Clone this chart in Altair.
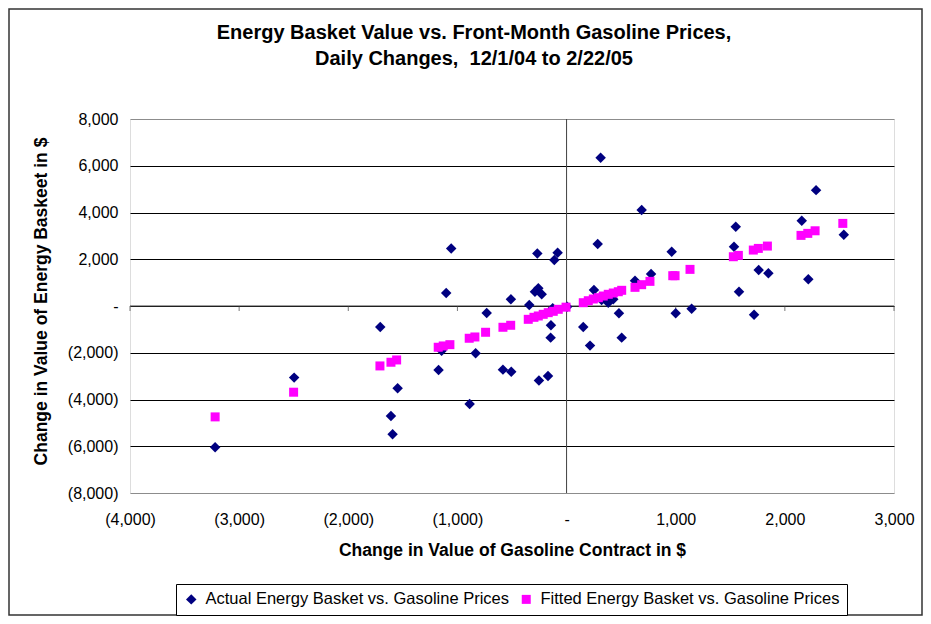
import altair as alt
import pandas as pd

# ---- data ----
series_names = [
    "Actual Energy Basket vs. Gasoline Prices",
    "Fitted Energy Basket vs. Gasoline Prices",
]
actual_x = [-3220, -2496, -1707, -1548, -1609, -1594, -1057, -1103, -1145, -1173,
            -732, -833, -888, -583, -507, -510, -342, -268, -259, -290,
            -228, -253, -170, -143, -146, -112, -82, -127, 5, 153,
            215, 251, 285, 312, 321, 382, 428, 480, 505, 627,
            688, 774, 963, 1000, 1146, 1550, 1534, 1580, 1718, 1760,
            1849, 2155, 2286, 2215, 2540]
actual_y = [-6040, -3064, -897, -3517, -4701, -5484, 2464, 555, -1910, -2735,
            -299, -2022, -4188, -2722, -2808, 286, 43, 2251, 755, 612,
            499, -3191, -2991, -826, -1353, 1966, 2279, -100, -30, -897,
            -1695, 684, 2650, 6338, 256, 141, 286, -313, -1353, 1083,
            4103, 1368, 2322, -313, -114, 3390, 2536, 612, -370, 1538,
            1397, 3645, 4957, 1141, 3047]
fitted_x = [-3220, -2501, -1710, -1609, -1557, -1176, -1130, -1069, -892, -840,
            -742, -583, -512, -351, -299, -259, -214, -168, -122, -76,
            -5, 153, 199, 245, 291, 336, 382, 428, 474, 505,
            627, 688, 764, 973, 994, 1131, 1528, 1574, 1711, 1757,
            1840, 2148, 2210, 2277, 2531]
fitted_y = [-4744, -3688, -2564, -2406, -2308, -1765, -1709, -1654, -1380, -1325,
            -1124, -910, -825, -570, -484, -427, -356, -285, -228, -142,
            -50, 141, 226, 299, 355, 427, 500, 556, 611, 671,
            798, 912, 1054, 1296, 1296, 1567, 2108, 2165, 2393, 2464,
            2564, 3021, 3107, 3218, 3534]

x_tick_values = [-4000, -3000, -2000, -1000, 0, 1000, 2000, 3000]
y_tick_values = [-8000, -6000, -4000, -2000, 0, 2000, 4000, 6000, 8000]
zero_value = [0]

title_lines = [
    "Energy Basket Value vs. Front-Month Gasoline Prices,",
    "Daily Changes,\u00a0 12/1/04 to 2/22/05",
]
x_title = "Change in Value of Gasoline Contract in $"
y_title = "Change in Value of Energy Baskeet in $"

# ---- layout ----
W, H = 764, 374
PAD_L, PAD_T = 122, 111
TOTAL_W, TOTAL_H = 915, 608
FONT = "Liberation Sans, Arial, Helvetica, sans-serif"

df = pd.DataFrame({
    "x": actual_x + fitted_x,
    "y": actual_y + fitted_y,
    "series": [series_names[0]] * len(actual_x) + [series_names[1]] * len(fitted_x),
})

xs = alt.Scale(domain=[-4000, 3000], nice=False, zero=False)
ys = alt.Scale(domain=[-8000, 8000], nice=False, zero=False)

x_label_expr = ("datum.value > 0 ? format(datum.value, ',') : "
                "(datum.value < 0 ? '(' + format(-datum.value, ',') + ')' : '-\u2007\u2007')")
y_label_expr = ("datum.value > 0 ? format(datum.value, ',') + '\u2008' : "
                "(datum.value < 0 ? '(' + format(-datum.value, ',') + ')' : '-\u2007\u2007\u2008')")

xaxis = alt.Axis(
    values=x_tick_values, labelExpr=x_label_expr, labelFont=FONT, labelFontSize=16,
    labelColor="#000", labelAlign="center", labelBaseline="top", labelPadding=18,
    labelFlush=False, labelOverlap=False, ticks=False, tickSize=0, domain=False, grid=False,
    title=x_title, titleFont=FONT, titleFontSize=17.5, titleFontWeight="bold", titleColor="#000",
    titleY=62, titleBaseline="alphabetic",
)
yaxis = alt.Axis(
    values=y_tick_values, labelExpr=y_label_expr, labelFont=FONT, labelFontSize=16,
    labelColor="#000", labelAlign="right", labelBaseline="middle", labelPadding=12,
    labelFlush=False, labelOverlap=False, ticks=False, tickSize=0, domain=False,
    grid=True, gridWidth=1, gridOpacity=1,
    gridColor=alt.condition("abs(datum.value) >= 8000", alt.value("#8c8c8c"), alt.value("#000000")),
    title=y_title, titleFont=FONT, titleFontSize=17.5, titleFontWeight="bold", titleColor="#000",
    titleAngle=270, titleX=-84, titleY=182, titleBaseline="alphabetic", titleAlign="center",
)

legend = alt.Legend(
    title=None, orient="none", legendX=46, legendY=465, direction="horizontal",
    labelFont=FONT, labelFontSize=16.5, labelColor="#000", labelLimit=0,
    strokeColor="#000", fillColor="#ffffff", padding=7, columnPadding=8, labelOffset=6,
    symbolStrokeWidth=0,
)

frame = alt.Chart(pd.DataFrame({"k": zero_value})).mark_rect(
    fillOpacity=0, stroke="#333333", strokeWidth=1.5
).encode(
    x=alt.value(-PAD_L + 1), x2=alt.value(TOTAL_W - PAD_L - 1),
    y=alt.value(-PAD_T + 1), y2=alt.value(TOTAL_H - PAD_T - 1),
)

zero_x = alt.Chart(pd.DataFrame({"x": zero_value})).mark_rule(color="#404040", strokeWidth=1).encode(
    x=alt.X("x:Q", scale=xs, axis=xaxis),
)
zero_y = alt.Chart(pd.DataFrame({"y": zero_value})).mark_rule(color="#404040", strokeWidth=1).encode(
    y=alt.Y("y:Q", scale=ys, axis=yaxis),
)
ticks = alt.Chart(pd.DataFrame({"x": x_tick_values, "y": [0] * len(x_tick_values)})).mark_tick(
    orient="vertical", color="#404040", thickness=1, size=5, yOffset=2.5
).encode(
    x=alt.X("x:Q", scale=xs, axis=xaxis),
    y=alt.Y("y:Q", scale=ys, axis=yaxis),
)

points = alt.Chart(df).mark_point(filled=True, opacity=1, strokeWidth=0).encode(
    x=alt.X("x:Q", scale=xs, axis=xaxis),
    y=alt.Y("y:Q", scale=ys, axis=yaxis),
    color=alt.Color("series:N", scale=alt.Scale(domain=series_names, range=["#000080", "#FF00FF"]), legend=legend),
    shape=alt.Shape("series:N", scale=alt.Scale(domain=series_names, range=["diamond", "square"]), legend=legend),
    size=alt.Size("series:N", scale=alt.Scale(domain=series_names, range=[110, 81]), legend=legend),
)

chart = alt.layer(frame, zero_x, zero_y, ticks, points).properties(
    width=W, height=H,
    autosize=alt.AutoSizeParams(type="none"),
    padding={"left": PAD_L, "top": PAD_T, "right": TOTAL_W - PAD_L - W, "bottom": TOTAL_H - PAD_T - H},
    title=alt.TitleParams(
        text=title_lines, font=FONT, fontSize=20, fontWeight="bold", color="#000",
        anchor="middle", frame="group", dx=-38, offset=-61, lineHeight=26,
    ),
).configure_view(
    stroke="#8c8c8c", strokeWidth=2
).configure(background="#ffffff")

chart.save("out.html", embed_options={"renderer": "svg", "actions": False})
